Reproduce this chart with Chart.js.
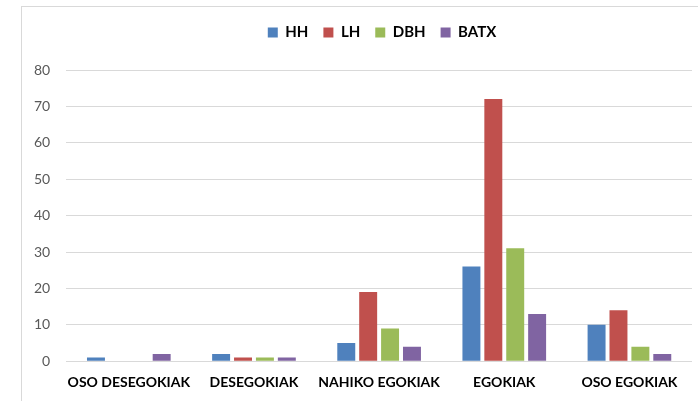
<!DOCTYPE html>
<html>
<head>
<meta charset="utf-8">
<script src="https://cdn.jsdelivr.net/npm/chart.js@4"></script>
<style>
  html, body { margin: 0; padding: 0; background: #fff; }
  #wrap { position: relative; width: 698px; height: 401px; overflow: hidden; }
  #frame { position: absolute; left: 21px; top: 6px; width: 700px; height: 420px; border: 1px solid #d9d9d9; box-sizing: border-box; }
  #chart { position: absolute; left: 0; top: 0; }
</style>
</head>
<body>
<div id="wrap">
  <div id="frame"></div>
  <canvas id="chart" width="698" height="401"></canvas>
</div>
<script>
const categories = ['OSO DESEGOKIAK', 'DESEGOKIAK', 'NAHIKO EGOKIAK', 'EGOKIAK', 'OSO EGOKIAK'];
const seriesNames = ['HH', 'LH', 'DBH', 'BATX'];
const hh = [1, 2, 5, 26, 10];
const lh = [0, 1, 19, 72, 14];
const dbh = [0, 1, 9, 31, 4];
const batx = [2, 1, 4, 13, 2];
const yTicks = [0, 10, 20, 30, 40, 50, 60, 70, 80];

const colors = ['#4f81bd', '#c0504d', '#9bbb59', '#8064a2'];
const font = 'Lato, "Open Sans", sans-serif';

// extra room under the legend, and nudge it to sit over the plot area like Excel does
const legendTweak = {
  id: 'legendTweak',
  beforeInit(chart) {
    const fit = chart.legend.fit;
    chart.legend.fit = function () {
      fit.call(this);
      this.height += 20;
    };
  },
  afterLayout(chart) {
    chart.legend.left += 27;
    chart.legend.right += 27;
  },
};

new Chart(document.getElementById('chart'), {
  type: 'bar',
  data: {
    labels: categories,
    datasets: [hh, lh, dbh, batx].map((vals, i) => ({
      label: seriesNames[i],
      data: vals,
      backgroundColor: colors[i],
      categoryPercentage: 0.7,
      barPercentage: 0.82,
    })),
  },
  plugins: [legendTweak],
  options: {
    responsive: false,
    animation: false,
    events: [],
    layout: { padding: { left: 18, right: 6, top: 10, bottom: 10 } },
    plugins: {
      tooltip: { enabled: false },
      legend: {
        position: 'top',
        labels: {
          boxWidth: 10,
          boxHeight: 10,
          color: '#000',
          padding: 15,
          font: { family: font, size: 15, weight: 'bold' },
        },
      },
    },
    scales: {
      x: {
        grid: { display: false, drawTicks: true, tickLength: 13 },
        border: { display: false },
        ticks: {
          color: '#000', padding: 0, maxRotation: 0, autoSkip: false,
          font: { family: font, size: 14, weight: 'bold' },
        },
      },
      y: {
        min: 0,
        max: 80,
        afterBuildTicks: (axis) => { axis.ticks = yTicks.map((v) => ({ value: v })); },
        grid: { color: '#d9d9d9', drawTicks: false, lineWidth: 1 },
        border: { display: false },
        ticks: { color: '#595959', padding: 16, font: { family: font, size: 14 } },
      },
    },
  },
});
</script>
</body>
</html>
